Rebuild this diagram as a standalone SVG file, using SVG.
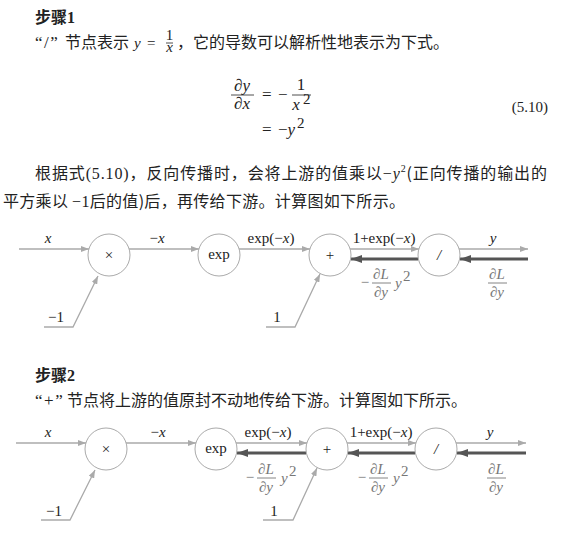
<svg xmlns="http://www.w3.org/2000/svg" width="576" height="542" viewBox="0 0 576 542">
<defs>
<style>
.cn{font-family:"Noto Sans CJK SC","Liberation Serif",sans-serif;font-size:16px;fill:#222}
.b{font-weight:bold}
.m{font-family:"Liberation Serif",serif;font-size:15px;fill:#222}
.e{font-size:17px}
.i{font-style:italic}
.g{fill:#777}
.q{font-family:"Liberation Serif",serif;font-size:17px;fill:#222;letter-spacing:1.5px}
.fw{stroke:#aaa;stroke-width:1.3;fill:none}
.bw{stroke:#555;stroke-width:3;fill:none}
.nd{fill:#fff;stroke:#aaa;stroke-width:1}
.bar{stroke:#777;stroke-width:0.9}
.barb{stroke:#222;stroke-width:0.8}
</style>
<marker id="fa" markerUnits="userSpaceOnUse" markerWidth="9" markerHeight="6" refX="8" refY="3" orient="auto"><path d="M0,0 L8,3 L0,6 z" fill="#aaa"/></marker>
<marker id="ba" markerUnits="userSpaceOnUse" markerWidth="12" markerHeight="8" refX="11" refY="4" orient="auto"><path d="M0,0 L11,4 L0,8 z" fill="#555"/></marker>
</defs>
<rect width="576" height="542" fill="#fff"/>

<!-- Text section 1 -->
<g id="text1">
<text class="cn b" x="35" y="23">步骤<tspan font-family="Liberation Serif" font-size="16">1</tspan></text>
<text class="q" x="35" y="48">“/”</text>
<text class="cn" x="65" y="48">节点表示</text>
<text class="m i" x="134" y="48">y</text>
<text class="m" x="147" y="48">=</text>
<text class="m" x="169.5" y="39.5" font-size="8.5" text-anchor="middle">1<tspan x="169.5" dy="12.5" font-style="italic">x</tspan></text>
<line class="barb" x1="166" y1="43" x2="173" y2="43"/>
<text class="cn" x="177" y="48">，它的导数可以解析性地表示为下式。</text>

<text class="m e i" x="242" y="91" text-anchor="middle">∂y</text>
<line class="barb" x1="231" y1="95" x2="254" y2="95"/>
<text class="m e i" x="242" y="109" text-anchor="middle">∂x</text>
<text class="m e" x="262" y="100">=</text>
<text class="m e" x="278" y="100">−</text>
<text class="m e" x="301" y="90" text-anchor="middle">1</text>
<line class="barb" x1="292" y1="95" x2="311" y2="95"/>
<text class="m e i" x="296" y="110" text-anchor="middle">x</text>
<text class="m" x="303" y="104" font-size="10.5">2</text>
<text class="m e" x="262" y="135">=</text>
<text class="m e" x="278" y="135">−<tspan class="i">y</tspan></text>
<text class="m" x="297" y="128" font-size="11">2</text>
<text class="m" x="548" y="112" text-anchor="end" font-size="16">(5.10)</text>

<text class="cn" x="35" y="179" textLength="512" lengthAdjust="spacing">根据式<tspan font-family="Liberation Serif">(5.10)</tspan>，反向传播时，会将上游的值乘以<tspan font-family="Liberation Serif">−<tspan font-style="italic">y</tspan></tspan><tspan font-family="Liberation Serif" font-size="10" dy="-7">2</tspan><tspan dy="7">(正向传播的输出的</tspan></text>
<text class="cn" x="3" y="207" textLength="402" lengthAdjust="spacing">平方乘以 <tspan font-family="Liberation Serif">−1</tspan>后的值)后，再传给下游。计算图如下所示。</text>
</g>

<!-- Diagram 1 connectors -->
<g id="connectors1">
<line class="fw" x1="19" y1="249" x2="89" y2="249" marker-end="url(#fa)"/>
<line class="fw" x1="129" y1="249" x2="199" y2="249" marker-end="url(#fa)"/>
<line class="fw" x1="239" y1="249" x2="310" y2="249" marker-end="url(#fa)"/>
<line class="fw" x1="350" y1="249" x2="419" y2="249" marker-end="url(#fa)"/>
<line class="fw" x1="459" y1="249" x2="528" y2="249" marker-end="url(#fa)"/>
<polyline class="fw" points="44,327 73,327 98,276" marker-end="url(#fa)"/>
<polyline class="fw" points="266,327 295,327 320,274" marker-end="url(#fa)"/>
<line class="bw" x1="528" y1="259" x2="460" y2="259" marker-end="url(#ba)"/>
<line class="bw" x1="418" y1="259" x2="351" y2="259" marker-end="url(#ba)"/>
</g>

<g id="labels1">
<text class="m i" x="48" y="243" text-anchor="middle">x</text>
<text class="m" x="157" y="243" text-anchor="middle">−<tspan class="i">x</tspan></text>
<text class="m" x="271" y="243" text-anchor="middle">exp(−<tspan class="i">x</tspan>)</text>
<text class="m" x="384" y="243" text-anchor="middle">1+exp(−<tspan class="i">x</tspan>)</text>
<text class="m i" x="493" y="243" text-anchor="middle">y</text>
<text class="m" x="56" y="322" text-anchor="middle">−1</text>
<text class="m" x="277" y="322" text-anchor="middle">1</text>
<text class="m g" x="365" y="287" text-anchor="middle">−</text>
<text class="m i g" x="381" y="279" text-anchor="middle">∂L</text>
<line class="bar" x1="372" y1="283" x2="391" y2="283"/>
<text class="m i g" x="381" y="297" text-anchor="middle">∂y</text>
<text class="m i g" x="395" y="288">y</text>
<text class="m g" x="403" y="281" font-size="10">2</text>
<text class="m i g" x="497" y="279" text-anchor="middle">∂L</text>
<line class="bar" x1="488" y1="283" x2="507" y2="283"/>
<text class="m i g" x="497" y="297" text-anchor="middle">∂y</text>
</g>

<g id="n1-mul"><circle class="nd" cx="109" cy="255" r="21"/><text class="m" x="109" y="260" text-anchor="middle" font-size="13">×</text></g>
<g id="n1-exp"><circle class="nd" cx="219" cy="255" r="21"/><text class="m" x="219" y="259" text-anchor="middle" font-size="14">exp</text></g>
<g id="n1-add"><circle class="nd" cx="330" cy="255" r="21"/><text class="m" x="330" y="260" text-anchor="middle" font-size="15">+</text></g>
<g id="n1-div"><circle class="nd" cx="439" cy="255" r="21"/><text class="m i" x="439" y="260" text-anchor="middle" font-size="15">/</text></g>

<!-- Text section 2 -->
<g id="text2">
<text class="cn b" x="35" y="381">步骤<tspan font-family="Liberation Serif" font-size="16">2</tspan></text>
<text class="q" x="35" y="406">“+”</text>
<text class="cn" x="67" y="406">节点将上游的值原封不动地传给下游。计算图如下所示。</text>
</g>

<!-- Diagram 2 connectors -->
<g id="connectors2">
<line class="fw" x1="16" y1="443" x2="86" y2="443" marker-end="url(#fa)"/>
<line class="fw" x1="126" y1="443" x2="196" y2="443" marker-end="url(#fa)"/>
<line class="fw" x1="236" y1="443" x2="307" y2="443" marker-end="url(#fa)"/>
<line class="fw" x1="347" y1="443" x2="416" y2="443" marker-end="url(#fa)"/>
<line class="fw" x1="456" y1="443" x2="526" y2="443" marker-end="url(#fa)"/>
<polyline class="fw" points="41,520 70,520 95,470" marker-end="url(#fa)"/>
<polyline class="fw" points="263,520 293,520 317,468" marker-end="url(#fa)"/>
<line class="bw" x1="526" y1="453" x2="457" y2="453" marker-end="url(#ba)"/>
<line class="bw" x1="415" y1="453" x2="348" y2="453" marker-end="url(#ba)"/>
<line class="bw" x1="306" y1="453" x2="237" y2="453" marker-end="url(#ba)"/>
</g>

<g id="labels2">
<text class="m i" x="48" y="437" text-anchor="middle">x</text>
<text class="m" x="158" y="437" text-anchor="middle">−<tspan class="i">x</tspan></text>
<text class="m" x="268" y="437" text-anchor="middle">exp(−<tspan class="i">x</tspan>)</text>
<text class="m" x="381" y="437" text-anchor="middle">1+exp(−<tspan class="i">x</tspan>)</text>
<text class="m i" x="490" y="437" text-anchor="middle">y</text>
<text class="m" x="54" y="516" text-anchor="middle">−1</text>
<text class="m" x="274" y="516" text-anchor="middle">1</text>
<text class="m g" x="250" y="482" text-anchor="middle">−</text>
<text class="m i g" x="266" y="474" text-anchor="middle">∂L</text>
<line class="bar" x1="257" y1="478" x2="276" y2="478"/>
<text class="m i g" x="266" y="492" text-anchor="middle">∂y</text>
<text class="m i g" x="281" y="483">y</text>
<text class="m g" x="289" y="476" font-size="10">2</text>
<text class="m g" x="362" y="482" text-anchor="middle">−</text>
<text class="m i g" x="378" y="474" text-anchor="middle">∂L</text>
<line class="bar" x1="369" y1="478" x2="388" y2="478"/>
<text class="m i g" x="378" y="492" text-anchor="middle">∂y</text>
<text class="m i g" x="393" y="483">y</text>
<text class="m g" x="401" y="476" font-size="10">2</text>
<text class="m i g" x="496" y="474" text-anchor="middle">∂L</text>
<line class="bar" x1="487" y1="478" x2="506" y2="478"/>
<text class="m i g" x="496" y="492" text-anchor="middle">∂y</text>
</g>

<g id="n2-mul"><circle class="nd" cx="106" cy="449" r="21"/><text class="m" x="106" y="454" text-anchor="middle" font-size="13">×</text></g>
<g id="n2-exp"><circle class="nd" cx="216" cy="449" r="21"/><text class="m" x="216" y="453" text-anchor="middle" font-size="14">exp</text></g>
<g id="n2-add"><circle class="nd" cx="327" cy="449" r="21"/><text class="m" x="327" y="454" text-anchor="middle" font-size="15">+</text></g>
<g id="n2-div"><circle class="nd" cx="436" cy="449" r="21"/><text class="m i" x="436" y="454" text-anchor="middle" font-size="15">/</text></g>
</svg>
